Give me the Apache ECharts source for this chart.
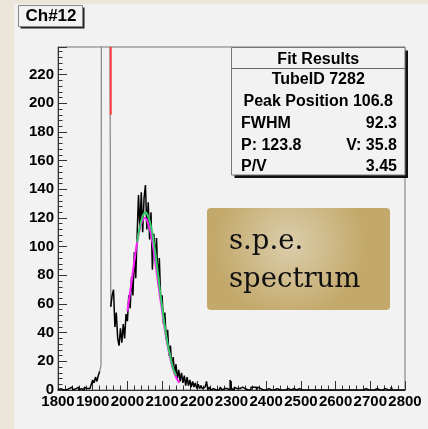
<!DOCTYPE html>
<html>
<head>
<meta charset="utf-8">
<script src="https://cdn.jsdelivr.net/npm/echarts@6/dist/echarts.min.js"></script>
<style>
html,body{margin:0;padding:0;background:#ebe5da;}
#chart{width:428px;height:429px;}
</style>
</head>
<body>
<div id="chart"></div>
<script>
// ---- data ----
const binStart = 1800;
const binWidth = 4;
// counts for bins 1800..1916
const countsLow = [0,1,0,0,1,0,1,1,0,2,
                   1,0,1,1,2,0,1,1,0,2,
                   1,2,1,2,4,7,5,9,6,10];
// pedestal bins 1920..1948 (off scale)
const pedestalCounts = [13,17,900,2400,2800,2000,1000,400];
// counts for bins 1952..2796
const countsHigh = [58,66,70,44,54,36,31,43,33,46,36,53,
  48,66,57,79,66,96,78,108,136,112,
  138,110,134,143,112,131,105,124,84,109,
  92,106,74,92,63,66,46,54,35,42,
  24,31,16,23,11,18,8,14,6,12,
  5,10,3,9,3,7,2,6,2,5,
  1,4,1,3,1,2,3,6,0,2,
  0,1,2,0,1,0,1,2,0,1,
  0,1,1,0,7,1,0,2,1,0,
  1,0,2,3,1,2,0,1,0,2,
  2,1,2,0,2,1,0,0,1,0,
  0,1,0,0,1,0,0,1,0,0,
  0,0,1,0,0,1,0,0,0,1,
  0,0,0,1,0,0,0,0,1,0,
  0,0,1,0,0,0,0,0,1,0,
  0,0,0,0,1,0,0,0,0,0,
  1,0,0,0,0,0,1,0,0,0,
  0,0,0,0,1,0,0,0,0,0,
  0,1,0,0,0,0,0,0,0,1,
  0,0,0,0,0,1,0,0,0,0,
  2,0,0,0,0,1,0,0,0,0];
// fit curves
const fitMagentaX = [2000,2010,2020,2030,2040,2050,2060,2070,2080,2090,2100,2110,2120,2130,2140,2150];
const fitMagentaY = [55,72,90,106,116,120,116,106,90,72,55,39,26,16,9,5];
const fitGreenX = [2028,2036,2044,2052,2060,2068,2076,2084,2092,2100,2108,2116,2124,2132,2140];
const fitGreenY = [103,114,121,124,121,114,103,89,73,58,44,32,23,15,10];
// red marker
const redMarkerX = 1952;
const redMarkerRange = [192, 239.3];
// axes
const xMin = 1800, xMax = 2800, xStep = 100;
const yMin = 0, yMax = 239.3, yStep = 20;
// texts
const titleText = 'Ch#12';
const fitTitle = 'Fit Results';
const fitRows = [
  ['TubeID 7282', null],
  ['Peak Position 106.8', null],
  ['FWHM', '92.3'],
  ['P: 123.8', 'V: 35.8'],
  ['P/V', '3.45']
];
const noteLines = ['s.p.e.', 'spectrum'];

// ---- build ----
const lowPts = countsLow.map((v, i) => [binStart + binWidth * i, v]);
const pedStart = binStart + binWidth * countsLow.length;
lowPts.push([pedStart, pedestalCounts[0]]);
const pedPts = pedestalCounts.map((v, i) => [pedStart + binWidth * i, v]);
const highStart = pedStart + binWidth * pedestalCounts.length;
pedPts.push([highStart, countsHigh[0]]);
const highPts = countsHigh.map((v, i) => [highStart + binWidth * i, v]);
highPts.push([xMax, countsHigh[countsHigh.length - 1]]);

const FONT = '"Liberation Sans", Arial, Helvetica, sans-serif';
const chart = echarts.init(document.getElementById('chart'), null, {renderer: 'canvas'});

const fitBox = {x: 231.5, y: 47.5, w: 173.5, h: 127.5};
const rowY = [80, 102, 124, 145.5, 167];

const graphics = [
  {type: 'rect', z: -100, shape: {x: 14, y: 4, width: 414, height: 425}, style: {fill: '#f2f2f2'}},
  // title box
  {type: 'rect', z: 100, shape: {x: 20.5, y: 7.5, width: 64, height: 21}, style: {fill: '#222'}},
  {type: 'rect', z: 101, shape: {x: 18.5, y: 5.5, width: 64, height: 21}, style: {fill: '#f2f2f2', stroke: '#888', lineWidth: 1}},
  {type: 'text', z: 102, style: {text: titleText, x: 51, y: 16.5, align: 'center', verticalAlign: 'middle', font: 'bold 17px ' + FONT, fill: '#000'}},
  // fit box
  {type: 'rect', z: 100, shape: {x: fitBox.x + 3, y: fitBox.y + 3, width: fitBox.w, height: fitBox.h}, style: {fill: '#111'}},
  {type: 'rect', z: 101, shape: {x: fitBox.x, y: fitBox.y, width: fitBox.w, height: fitBox.h}, style: {fill: '#f2f2f2', stroke: '#777', lineWidth: 1}},
  {type: 'line', z: 102, shape: {x1: fitBox.x, y1: 68.5, x2: fitBox.x + fitBox.w, y2: 68.5}, style: {stroke: '#666', lineWidth: 1}},
  {type: 'text', z: 102, style: {text: fitTitle, x: fitBox.x + fitBox.w / 2, y: 59.5, align: 'center', verticalAlign: 'middle', font: 'bold 16px ' + FONT, fill: '#000'}},
  // note box
  {type: 'rect', z: 100, shape: {x: 207, y: 208, width: 183, height: 102, r: 4},
   style: {fill: new echarts.graphic.RadialGradient(0.45, 0.35, 0.75, [{offset: 0, color: '#dccdab'}, {offset: 1, color: '#c2a86a'}])}},
  {type: 'text', z: 101, style: {text: noteLines[0], x: 229, y: 242, verticalAlign: 'middle', font: '27.5px "DejaVu Serif", Georgia, serif', fill: '#111'}},
  {type: 'text', z: 101, style: {text: noteLines[1], x: 229, y: 280, verticalAlign: 'middle', font: '27.5px "DejaVu Serif", Georgia, serif', fill: '#111'}}
];
fitRows.forEach((r, i) => {
  if (r[1] === null) {
    graphics.push({type: 'text', z: 102, style: {text: r[0], x: fitBox.x + fitBox.w / 2, y: rowY[i], align: 'center', verticalAlign: 'middle', font: 'bold 16px ' + FONT, fill: '#000'}});
  } else {
    graphics.push({type: 'text', z: 102, style: {text: r[0], x: 241, y: rowY[i], align: 'left', verticalAlign: 'middle', font: 'bold 16px ' + FONT, fill: '#000'}});
    graphics.push({type: 'text', z: 102, style: {text: r[1], x: 397, y: rowY[i], align: 'right', verticalAlign: 'middle', font: 'bold 16px ' + FONT, fill: '#000'}});
  }
});

const axisLabelStyle = {color: '#000', fontSize: 15, fontWeight: 'bold', fontFamily: FONT, hideOverlap: false};

chart.setOption({
  backgroundColor: '#ebe5da',
  animation: false,
  grid: {left: 58, right: 23, top: 47, bottom: 39, show: true, borderColor: '#777', borderWidth: 1, backgroundColor: 'transparent'},
  xAxis: {
    type: 'value', min: xMin, max: xMax, interval: xStep,
    axisLine: {show: true, onZero: false, lineStyle: {color: '#333', width: 1}},
    axisTick: {show: true, inside: true, length: 9, lineStyle: {color: '#333'}},
    minorTick: {show: true, splitNumber: 5, length: 4.5, lineStyle: {color: '#333'}},
    splitLine: {show: false},
    axisLabel: Object.assign({margin: 4, showMinLabel: true, showMaxLabel: true, formatter: v => String(v)}, axisLabelStyle)
  },
  yAxis: {
    type: 'value', min: yMin, max: yMax, interval: yStep,
    axisLine: {show: true, onZero: false, lineStyle: {color: '#333', width: 1}},
    axisTick: {show: true, inside: true, length: 9, lineStyle: {color: '#333'}},
    minorTick: {show: true, splitNumber: 5, length: 4.5, lineStyle: {color: '#333'}},
    splitLine: {show: false},
    axisLabel: Object.assign({margin: 4, showMinLabel: true, showMaxLabel: false, formatter: v => (v % yStep === 0 ? String(v) : '')}, axisLabelStyle)
  },
  graphic: graphics,
  series: [
    {type: 'line', step: 'end', data: pedPts, symbol: 'none', lineStyle: {color: '#8c8c8c', width: 1.3}, clip: true, z: 2},
    {type: 'line', step: 'end', data: lowPts, symbol: 'none', lineStyle: {color: '#000', width: 1.5}, clip: true, z: 3},
    {type: 'line', step: 'end', data: highPts, symbol: 'none', lineStyle: {color: '#000', width: 1.5}, clip: true, z: 3},
    {type: 'line', data: redMarkerRange.map(v => [redMarkerX, v]), symbol: 'none', lineStyle: {color: '#ff3b3b', width: 2}, clip: true, z: 4},
    {type: 'line', smooth: true, data: fitMagentaX.map((x, i) => [x, fitMagentaY[i]]), symbol: 'none', lineStyle: {color: '#ff22ff', width: 2}, z: 5},
    {type: 'line', smooth: true, data: fitGreenX.map((x, i) => [x, fitGreenY[i]]), symbol: 'none', lineStyle: {color: '#33cc66', width: 2}, z: 6}
  ]
});
</script>
</body>
</html>
